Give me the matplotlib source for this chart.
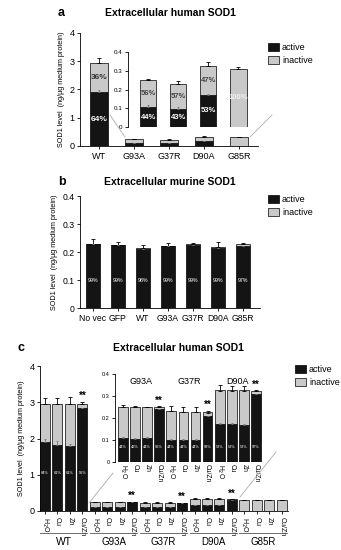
import matplotlib
matplotlib.use("Agg")
import matplotlib.pyplot as plt
from matplotlib.patches import Patch
from matplotlib.lines import Line2D
import matplotlib.transforms as mtransforms

W, H = 341, 550
BLACK = "#141414"
GREY = "#c9c9c9"

# ---- panel a: extracellular human SOD1
a_labels = ["WT", "G93A", "G37R", "D90A", "G85R"]
a_total = [2.95, 0.25, 0.23, 0.325, 0.31]
a_active = [1.90, 0.105, 0.098, 0.172, 0.0]
a_total_err = [0.17, 0.008, 0.018, 0.02, 0.01]
a_active_err = [0.08, 0.01, 0.01, 0.006, 0.0]
a_pct_active = ["64%", "44%", "43%", "53%", ""]
a_pct_inactive = ["36%", "56%", "57%", "47%", "100%"]

# ---- panel b: extracellular murine SOD1
b_labels = ["No vec", "GFP", "WT", "G93A", "G37R", "D90A", "G85R"]
b_total = [0.230, 0.226, 0.215, 0.222, 0.228, 0.217, 0.228]
b_active = [0.228, 0.224, 0.211, 0.220, 0.226, 0.215, 0.222]
b_err = [0.015, 0.011, 0.010, 0.011, 0.005, 0.020, 0.004]
b_pct = ["99%", "99%", "98%", "99%", "99%", "99%", "97%"]

# ---- panel c: metal supplementation
c_groups = ["WT", "G93A", "G37R", "D90A", "G85R"]
c_treat = ["H$_2$O", "Cu", "Zn", "Cu/Zn"]
c_total = [2.95, 2.95, 2.95, 2.95,
           0.25, 0.25, 0.25, 0.25,
           0.23, 0.228, 0.228, 0.225,
           0.325, 0.325, 0.325, 0.322,
           0.31, 0.31, 0.31, 0.31]
c_active = [1.90, 1.81, 1.78, 2.83,
            0.108, 0.104, 0.11, 0.24,
            0.10, 0.10, 0.10, 0.21,
            0.172, 0.172, 0.17, 0.31,
            0.0, 0.0, 0.0, 0.0]
c_total_err = [0.17, 0.17, 0.2, 0.07,
               0.008, 0.006, 0.0, 0.005,
               0.025, 0.02, 0.02, 0.008,
               0.025, 0.02, 0.02, 0.006,
               0.004, 0.004, 0.004, 0.004]
c_active_err = [0.08, 0.12, 0.08, 0.0,
                0.005, 0.005, 0.005, 0.0,
                0.004, 0.005, 0.004, 0.0,
                0.006, 0.005, 0.005, 0.0,
                0.0, 0.0, 0.0, 0.0]
c_pct = ["64%", "61%", "61%", "96%",
         "44%", "42%", "44%", "96%",
         "44%", "44%", "44%", "93%",
         "53%", "53%", "53%", "97%",
         "", "", "", ""]
c_stars = [3, 7, 11, 15]

plt.rcParams["font.family"] = ["Liberation Sans", "DejaVu Sans"]

fig = plt.figure(figsize=(W / 100, H / 100), dpi=100)


def rect(l, t, r, b):
    return [l / W, 1 - b / H, (r - l) / W, (b - t) / H]


def style(ax, fs=6):
    ax.spines["top"].set_visible(False)
    ax.spines["right"].set_visible(False)
    ax.spines["left"].set_linewidth(0.6)
    ax.spines["bottom"].set_linewidth(0.6)
    ax.tick_params(labelsize=fs, width=0.6, length=2.5, pad=1.5)


def stacked(ax, x, active, total, act_err, tot_err, width):
    inactive = [t - a for t, a in zip(total, active)]
    ax.bar(x, active, width, color=BLACK, edgecolor="black", linewidth=0.5)
    ax.bar(x, inactive, width, bottom=active, color=GREY,
           edgecolor="black", linewidth=0.5)
    ax.errorbar(x, total, yerr=[[0] * len(x), tot_err], fmt="none",
                ecolor="black", elinewidth=0.6, capsize=1.2, capthick=0.6)
    xa = [xi for xi, a in zip(x, active) if a > 0]
    ya = [a for a in active if a > 0]
    ea = [e for e, a in zip(act_err, active) if a > 0]
    ax.errorbar(xa, ya, yerr=[[0] * len(xa), ea], fmt="none",
                ecolor="#777777", elinewidth=0.6, capsize=1.0, capthick=0.6)


def legend(x, y):
    handles = [Patch(facecolor=BLACK, edgecolor="black", linewidth=0.5),
               Patch(facecolor=GREY, edgecolor="black", linewidth=0.5)]
    fig.legend(handles, ["active", "inactive"], loc="upper left",
               bbox_to_anchor=(x / W, 1 - y / H), frameon=False,
               fontsize=6.5, handlelength=1.3, handleheight=1.0,
               handletextpad=0.3, labelspacing=0.5, borderpad=0)


YLAB = "SOD1 level  (ng/\u00b5g medium protein)"

# ================= panel a
ax = fig.add_axes(rect(80, 33, 258, 146))
xa = list(range(len(a_labels)))
stacked(ax, xa, a_active, a_total, a_active_err, a_total_err, 0.52)
ax.set_xlim(-0.55, 4.55)
ax.set_ylim(0, 4)
ax.set_yticks([0, 1, 2, 3, 4])
ax.set_xticks(xa)
ax.set_xticklabels(a_labels)
style(ax, 6.5)
ax.set_ylabel(YLAB, fontsize=5.2, labelpad=3)
ax.text(0, (a_total[0] + a_active[0]) / 2, a_pct_inactive[0], ha="center",
        va="center", fontsize=6, color="#333333", fontweight="bold")
ax.text(0, a_active[0] / 2, a_pct_active[0], ha="center", va="center",
        fontsize=6, color="white", fontweight="bold")

ins = fig.add_axes(rect(128, 52, 252, 127))
xi = list(range(4))
stacked(ins, xi, a_active[1:], a_total[1:], a_active_err[1:],
        a_total_err[1:], 0.54)
ins.set_xlim(-0.67, 3.45)
ins.set_ylim(0, 0.4)
ins.set_yticks([0, 0.1, 0.2, 0.3, 0.4])
ins.set_yticklabels(["0", "0.1", "0.2", "0.3", "0.4"])
ins.set_xticks([])
style(ins, 4.5)
ins.spines["bottom"].set_visible(False)
ins.patch.set_alpha(0)
for i in xi:
    t, a = a_total[i + 1], a_active[i + 1]
    if a > 0:
        ins.text(i, a / 2, a_pct_active[i + 1], ha="center", va="center",
                 fontsize=5.5, color="white", fontweight="bold")
        ins.text(i, (t + a) / 2, a_pct_inactive[i + 1], ha="center",
                 va="center", fontsize=5.5, color="#444444",
                 fontweight="bold")
    else:
        ins.text(i, t / 2, a_pct_inactive[i + 1], ha="center", va="center",
                 fontsize=5.5, color="#f2f2f2", fontweight="bold")

fig.add_artist(Line2D([110 / W, 125 / W], [1 - 115 / H, 1 - 137 / H],
                      color="#aaaaaa", lw=0.6))
fig.add_artist(Line2D([272 / W, 250 / W], [1 - 115 / H, 1 - 137 / H],
                      color="#aaaaaa", lw=0.6))
fig.text(58 / W, 1 - 13 / H, "a", fontsize=9, fontweight="bold",
         va="center")
fig.text(170 / W, 1 - 13 / H, "Extracellular human SOD1", fontsize=7.5,
         fontweight="bold", ha="center", va="center")
legend(263, 38)

# ================= panel b
ax = fig.add_axes(rect(80, 196, 260, 308))
xb = list(range(len(b_labels)))
stacked(ax, xb, b_active, b_total, [0] * len(xb), b_err, 0.56)
ax.set_xlim(-0.52, 6.68)
ax.set_ylim(0, 0.4)
ax.set_yticks([0, 0.1, 0.2, 0.3, 0.4])
ax.set_yticklabels(["0", "0.1", "0.2", "0.3", "0.4"])
ax.set_xticks(xb)
ax.set_xticklabels(b_labels)
style(ax, 6.2)
ax.set_ylabel(YLAB, fontsize=5.2, labelpad=3)
for i in xb:
    ax.text(i, 0.1, b_pct[i], ha="center", va="center", fontsize=3.8,
            color="white")
fig.text(58 / W, 1 - 182 / H, "b", fontsize=9, fontweight="bold",
         va="center")
fig.text(170 / W, 1 - 182 / H, "Extracellular murine SOD1", fontsize=7.5,
         fontweight="bold", ha="center", va="center")
legend(263, 190)

# ================= panel c
ax = fig.add_axes(rect(40, 366, 288, 511))
xc = list(range(len(c_total)))
stacked(ax, xc, c_active, c_total, c_active_err, c_total_err, 0.8)
ax.set_xlim(-0.4, 19.5)
ax.set_ylim(0, 4)
ax.set_yticks([0, 1, 2, 3, 4])
ax.set_xticks(xc)
ax.set_xticklabels(c_treat * len(c_groups), rotation=-90, fontsize=5)
style(ax, 6.5)
ax.tick_params(axis="x", labelsize=5)
ax.set_ylabel(YLAB, fontsize=5.2, labelpad=3)
for i in range(4):
    ax.text(i, 1.05, c_pct[i], ha="center", va="center", fontsize=2.8,
            color="white")
for i in c_stars:
    ax.text(i, c_total[i] + c_total_err[i] + 0.02, "**", ha="center",
            va="bottom", fontsize=7, fontweight="bold")
trans = mtransforms.blended_transform_factory(ax.transData, fig.transFigure)
for g, name in enumerate(c_groups):
    x0, x1 = 4 * g - 0.4, 4 * g + 3.4
    ax.add_artist(Line2D([x0, x1], [1 - 533 / H, 1 - 533 / H],
                         transform=trans, color="#555555", lw=0.6,
                         clip_on=False))
    ax.text(4 * g + 1.5, 1 - 542 / H, name, transform=trans, ha="center",
            va="center", fontsize=7.5 if g == 0 else 7, clip_on=False)

ins = fig.add_axes(rect(115, 374, 262, 462))
xi = list(range(12))
sl = slice(4, 16)
stacked(ins, xi, c_active[sl], c_total[sl], c_active_err[sl],
        c_total_err[sl], 0.8)
ins.set_xlim(-0.66, 11.5)
ins.set_ylim(0, 0.4)
ins.set_yticks([0, 0.1, 0.2, 0.3, 0.4])
ins.set_yticklabels(["0", "0.1", "0.2", "0.3", "0.4"])
ins.set_xticks(xi)
ins.set_xticklabels(c_treat * 3, rotation=-90)
style(ins, 4)
ins.tick_params(axis="x", labelsize=4.8, length=0)
ins.spines["bottom"].set_visible(False)
ins.patch.set_alpha(0)
for j, i in enumerate(range(4, 16)):
    ins.text(j, 0.07, c_pct[i], ha="center", va="center", fontsize=2.8,
             color="white")
for i in c_stars[1:]:
    j = i - 4
    ins.text(j, c_total[i] + c_total_err[i] + 0.002, "**", ha="center",
             va="bottom", fontsize=7, fontweight="bold")
for g, name in enumerate(c_groups[1:4]):
    ins.text(4 * g + 1.5, 0.365, name, ha="center", va="center",
             fontsize=6.5)

fig.add_artist(Line2D([89 / W, 113 / W], [1 - 503 / H, 1 - 473 / H],
                      color="#aaaaaa", lw=0.6))
fig.add_artist(Line2D([240 / W, 276 / W], [1 - 497 / H, 1 - 452 / H],
                      color="#aaaaaa", lw=0.6))
fig.text(18 / W, 1 - 348 / H, "c", fontsize=9, fontweight="bold",
         va="center")
fig.text(178 / W, 1 - 348 / H, "Extracellular human SOD1", fontsize=7.5,
         fontweight="bold", ha="center", va="center")
legend(290, 360)

fig.savefig("out.png", dpi=100)
